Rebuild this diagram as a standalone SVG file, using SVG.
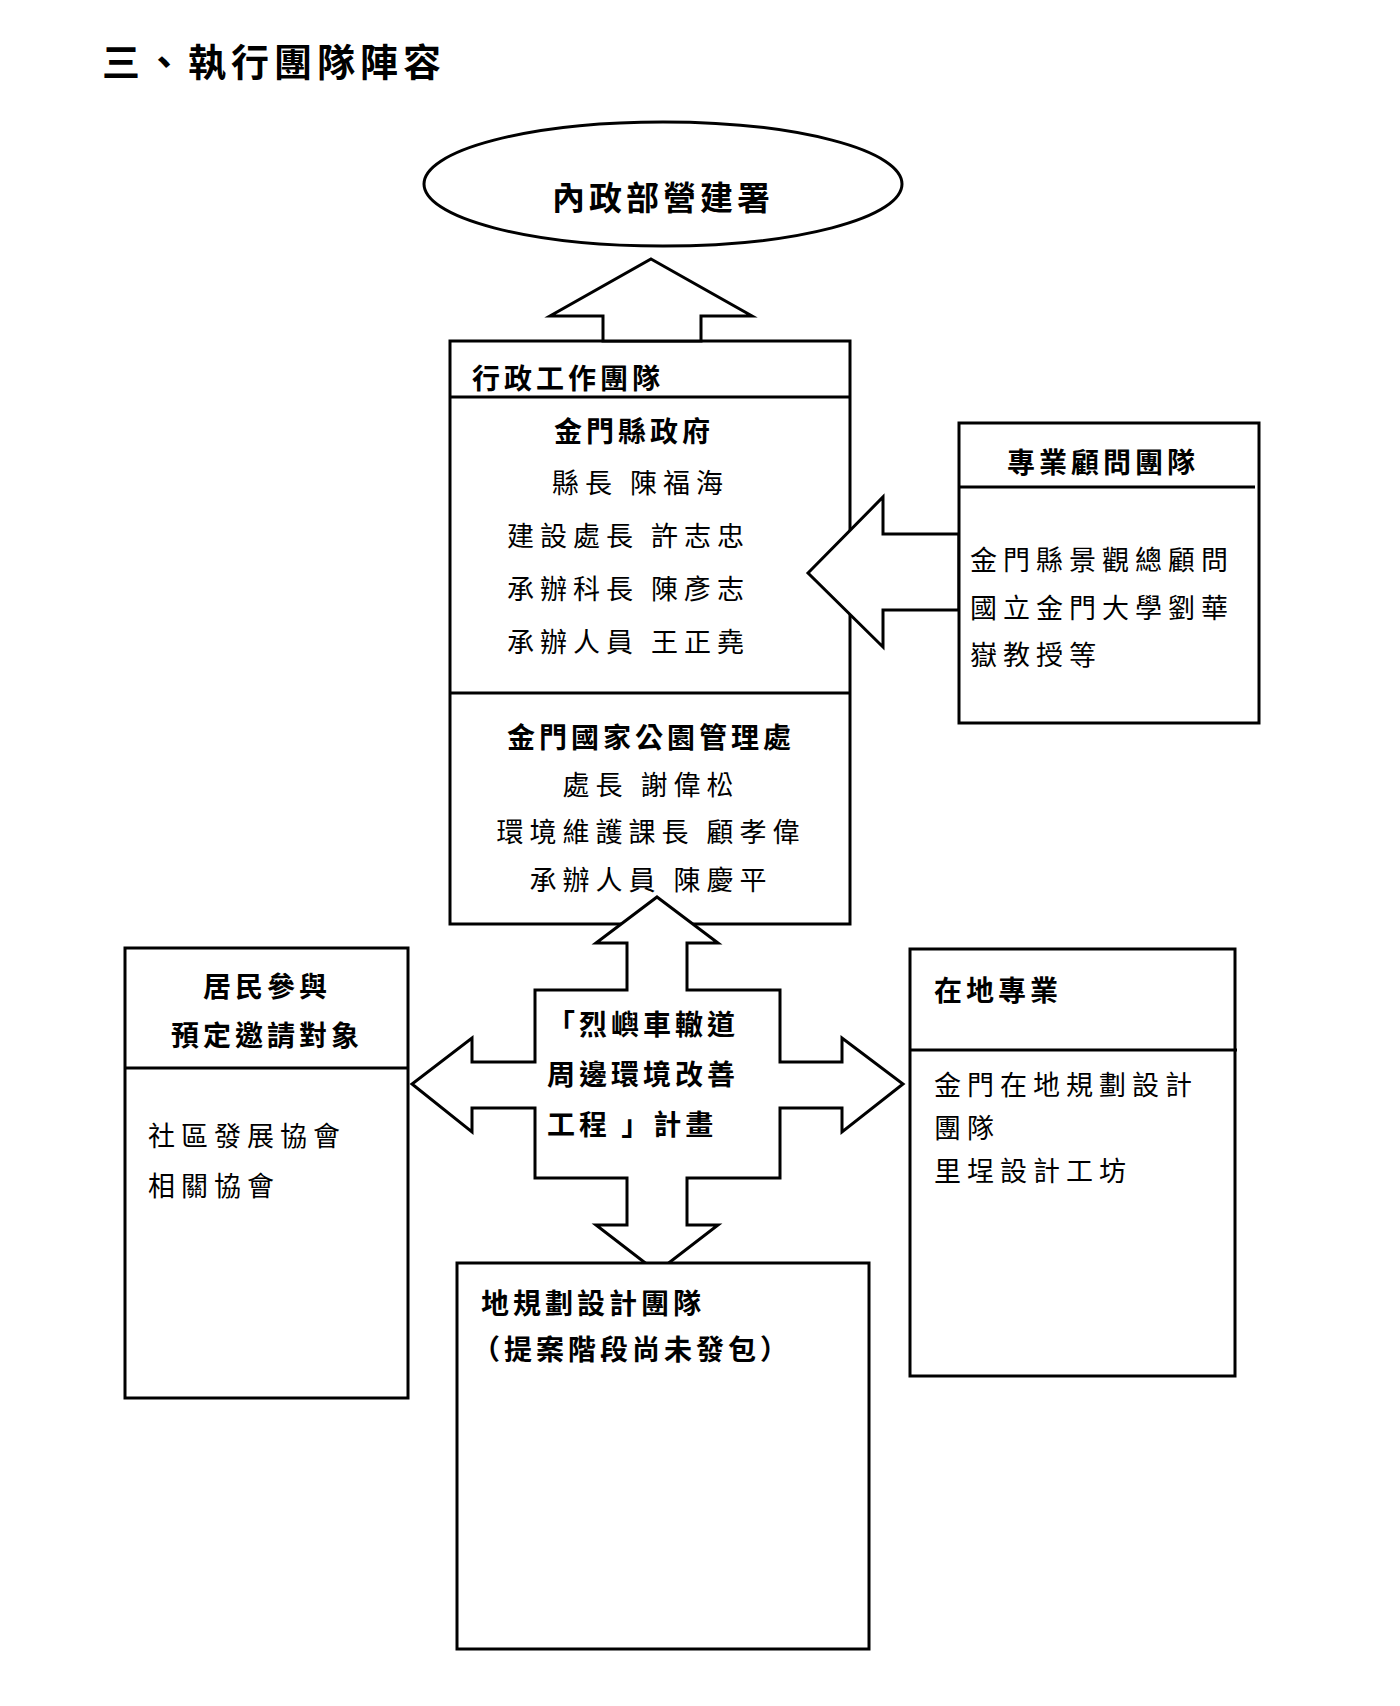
<svg xmlns="http://www.w3.org/2000/svg" width="1400" height="1706" viewBox="0 0 1400 1706">
<style>
text{font-family:"Noto Sans CJK TC","Noto Sans CJK SC",sans-serif;fill:#000}
.b{font-weight:bold}
.s{stroke:#000;stroke-width:3;fill:#fff}
.l{stroke:#000;stroke-width:3}
.t{font-size:27px;letter-spacing:6px}
.h{font-size:28px;font-weight:bold;letter-spacing:4px}
</style>
<rect width="1400" height="1706" fill="#fff"/>
<text x="102" y="76" class="b" font-size="38" letter-spacing="5">三、執行團隊陣容</text>
<g id="top">
<ellipse class="s" cx="663" cy="184" rx="239" ry="62"/>
<text x="663" y="210" class="b" font-size="33" text-anchor="middle" letter-spacing="4">內政部營建署</text>
</g>
<g id="admin">
<rect class="s" x="450" y="341" width="400" height="583"/>
<line class="l" x1="450" y1="397" x2="850" y2="397"/>
<line class="l" x1="450" y1="693" x2="850" y2="693"/>
<text x="472" y="389" class="h">行政工作團隊</text>
<text x="634" y="442" class="h" text-anchor="middle">金門縣政府</text>
<text x="552" y="493" class="t">縣長 陳福海</text>
<text x="507" y="546" class="t">建設處長 許志忠</text>
<text x="507" y="599" class="t">承辦科長 陳彥志</text>
<text x="507" y="652" class="t">承辦人員 王正堯</text>
<text x="651" y="748" class="h" text-anchor="middle">金門國家公園管理處</text>
<text x="651" y="795" class="t" text-anchor="middle">處長 謝偉松</text>
<text x="651" y="842" class="t" text-anchor="middle">環境維護課長 顧孝偉</text>
<text x="651" y="890" class="t" text-anchor="middle">承辦人員 陳慶平</text>
</g>
<g id="connectors">
<polygon class="s" points="651,259 752,316 701,316 701,341 603,341 603,316 550,316"/>
<polygon class="s" points="808,573 883,497 883,534 959,534 959,610 883,610 883,647"/>
</g>
<g id="consult">
<rect class="s" x="959" y="423" width="300" height="300"/>
<line class="l" x1="959" y1="487" x2="1255" y2="487"/>
<text x="1103" y="473" class="h" text-anchor="middle">專業顧問團隊</text>
<text x="970" y="570" class="t" font-size="28" letter-spacing="7">金門縣景觀總顧問</text>
<text x="970" y="618" class="t" font-size="28" letter-spacing="7">國立金門大學劉華</text>
<text x="970" y="665" class="t" font-size="28" letter-spacing="7">嶽教授等</text>
</g>
<g id="plan">
<polygon class="s" points="657,897 718,943 687,943 687,990 780,990 780,1062 842,1062 842,1038 903,1084 842,1132 842,1108 780,1108 780,1178 687,1178 687,1225 718,1225 657,1272 596,1225 627,1225 627,1178 535,1178 535,1108 472,1108 472,1132 412,1084 472,1038 472,1062 535,1062 535,990 627,990 627,943 596,943"/>
<text x="547" y="1035" class="h" font-size="29" letter-spacing="6">「烈嶼車轍道</text>
<text x="547" y="1085" class="h" font-size="29" letter-spacing="6">周邊環境改善</text>
<text x="547" y="1135" class="h" font-size="29" letter-spacing="6" xml:space="preserve">工程 」計畫</text>
</g>
<g id="residents">
<rect class="s" x="125" y="948" width="283" height="450"/>
<line class="l" x1="125" y1="1068" x2="408" y2="1068"/>
<text x="267" y="997" class="h" text-anchor="middle">居民參與</text>
<text x="267" y="1046" class="h" text-anchor="middle">預定邀請對象</text>
<text x="148" y="1146" class="t" letter-spacing="8">社區發展協會</text>
<text x="148" y="1196" class="t" letter-spacing="8">相關協會</text>
</g>
<g id="local">
<rect class="s" x="910" y="949" width="325" height="427"/>
<line class="l" x1="910" y1="1050" x2="1237" y2="1050"/>
<text x="934" y="1001" class="h">在地專業</text>
<text x="934" y="1095" class="t" letter-spacing="7">金門在地規劃設計</text>
<text x="934" y="1138" class="t" letter-spacing="7">團隊</text>
<text x="934" y="1181" class="t" letter-spacing="7">里埕設計工坊</text>
</g>
<g id="design">
<rect class="s" x="457" y="1263" width="412" height="386"/>
<text x="481" y="1314" class="h">地規劃設計團隊</text>
<text x="472" y="1360" class="h">（提案階段尚未發包）</text>
</g>
</svg>
